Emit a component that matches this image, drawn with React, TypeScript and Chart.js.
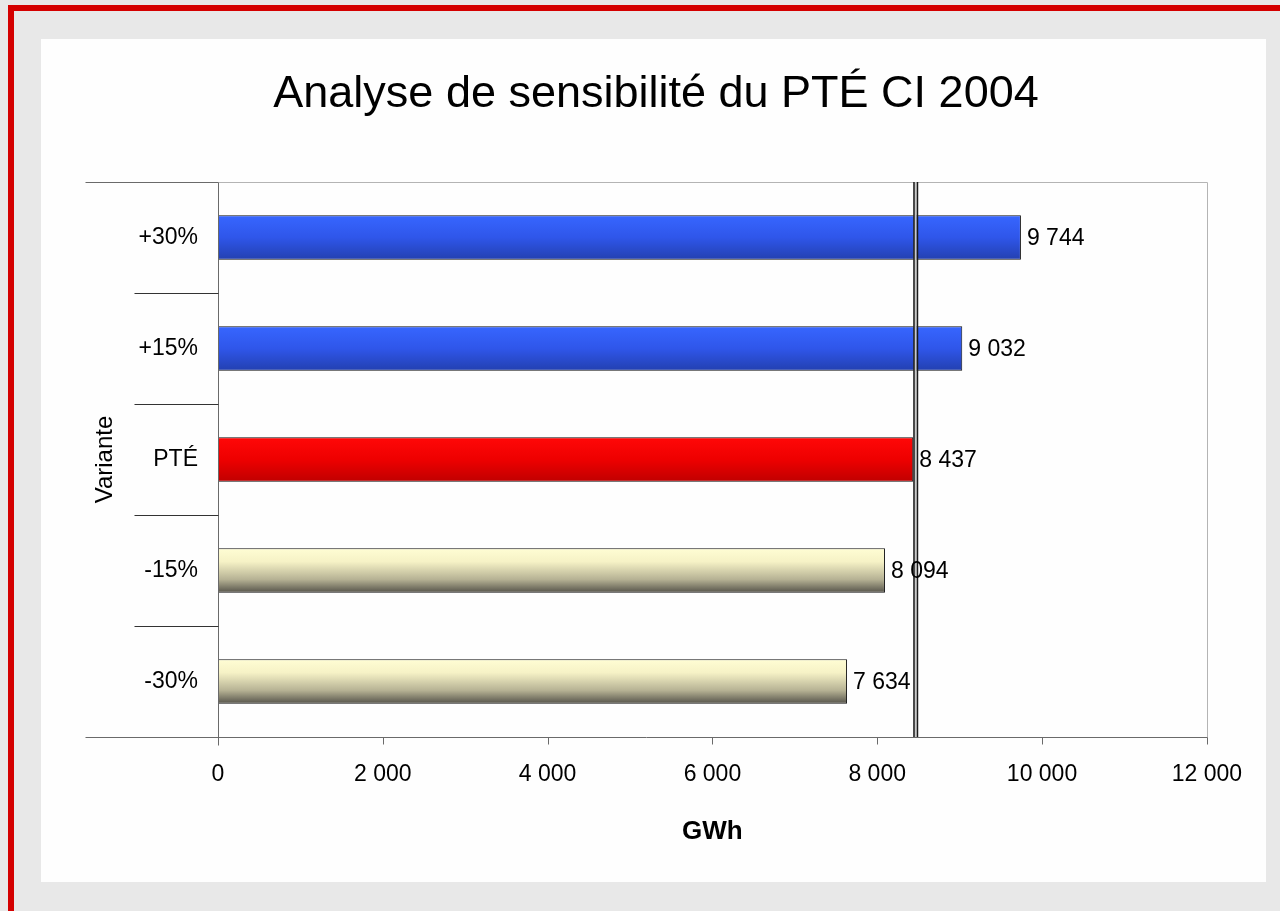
import React, { useEffect, useRef } from "react";
import { Chart, registerables } from "chart.js";

Chart.register(...registerables);

const titleText = "Analyse de sensibilité du PTÉ CI 2004";
const yAxisTitle = "Variante";
const xAxisTitle = "GWh";
const categories = ["+30%", "+15%", "PTÉ", "-15%", "-30%"];
const values = [9744, 9032, 8437, 8094, 7634];
const barKinds = ["blue", "blue", "red", "cream", "cream"];
const referenceValue = 8437;
const xMin = 0;
const xMax = 12000;
const xStep = 2000;

const FONT = "'Liberation Sans', Arial, Helvetica, sans-serif";

const gradientStops: Record<string, [number, string][]> = {
  blue: [
    [0, "#3766ff"],
    [0.5, "#2f56ea"],
    [1, "#2340b0"],
  ],
  red: [
    [0, "#ff0808"],
    [0.5, "#ee0000"],
    [1, "#c00000"],
  ],
  cream: [
    [0, "#fffdd4"],
    [0.3, "#f6f2c6"],
    [0.7, "#b6b294"],
    [1, "#55534a"],
  ],
};

const fmt = (v: number) =>
  Math.round(v)
    .toString()
    .replace(/\B(?=(\d{3})+(?!\d))/g, " ");

const extrasPlugin = {
  id: "extras",
  afterDatasetsDraw(chart: any) {
    const { ctx, chartArea: ca, scales } = chart;
    const xs = scales.x;
    const ys = scales.y;
    ctx.save();
    const dark = "#6a6a6a";
    const light = "#b4b4b4";
    const line = (x1: number, y1: number, x2: number, y2: number, c: string, w = 1) => {
      ctx.strokeStyle = c;
      ctx.lineWidth = w;
      ctx.beginPath();
      ctx.moveTo(x1, y1);
      ctx.lineTo(x2, y2);
      ctx.stroke();
    };
    const L = Math.round(ca.left) + 0.5;
    const R = Math.round(ca.right) + 0.5;
    const T = Math.round(ca.top) + 0.5;
    const B = Math.round(ca.bottom) + 0.5;
    const extLeft = L - 133;
    const sepLeft = L - 84;
    line(L, T, R, T, light);
    line(R, T, R, B, light);
    line(extLeft, T, L, T, dark);
    line(extLeft, B, R, B, dark);
    line(L, T, L, B + 8, dark);
    for (let v = xMin; v <= xMax; v += xStep) {
      const x = Math.round(xs.getPixelForValue(v)) + 0.5;
      line(x, B, x, B + 7, dark);
    }
    for (let i = 1; i < categories.length; i++) {
      const y = Math.round((ys.getPixelForValue(i - 1) + ys.getPixelForValue(i)) / 2) + 0.5;
      line(sepLeft, y, L, y, "#333333");
    }
    const rx = xs.getPixelForValue(referenceValue);
    ctx.fillStyle = "#c8c8c8";
    ctx.fillRect(rx + 0.5, ca.top, 3, ca.bottom - ca.top);
    line(rx + 0.75, ca.top, rx + 0.75, ca.bottom, "#1a1a1a", 1.5);
    line(rx + 4.25, ca.top, rx + 4.25, ca.bottom, "#1a1a1a", 1.5);
    const meta = chart.getDatasetMeta(0);
    ctx.fillStyle = "#000";
    ctx.font = `23px ${FONT}`;
    ctx.textAlign = "left";
    ctx.textBaseline = "middle";
    meta.data.forEach((el: any, i: number) => {
      ctx.fillText(fmt(values[i]), el.x + 6, el.y + 1);
    });
    ctx.save();
    ctx.translate(ca.left - 113, (ca.top + ca.bottom) / 2);
    ctx.rotate(-Math.PI / 2);
    ctx.textAlign = "center";
    ctx.textBaseline = "middle";
    ctx.font = `24px ${FONT}`;
    ctx.fillText(yAxisTitle, 0, 0);
    ctx.restore();
    ctx.restore();
  },
};

export default function App() {
  const ref = useRef<HTMLCanvasElement>(null);
  useEffect(() => {
    if (!ref.current) return;
    const chart = new Chart(ref.current, {
      type: "bar",
      data: {
        labels: categories,
        datasets: [
          {
            data: values,
            backgroundColor: (c: any) => {
              const chart = c.chart;
              const ys = chart.scales && chart.scales.y;
              const kind = barKinds[c.dataIndex] || "blue";
              const stops = gradientStops[kind];
              if (!chart.chartArea || !ys || c.dataIndex == null) return stops[0][1];
              const center = ys.getPixelForValue(c.dataIndex);
              const h = Math.abs(ys.getPixelForValue(1) - ys.getPixelForValue(0)) * 0.4;
              const g = chart.ctx.createLinearGradient(0, center - h / 2, 0, center + h / 2);
              stops.forEach(([o, col]) => g.addColorStop(o, col));
              return g;
            },
            borderColor: "#111111",
            borderWidth: 1,
            borderSkipped: false,
            categoryPercentage: 1,
            barPercentage: 0.4,
          },
        ],
      },
      options: {
        indexAxis: "y",
        animation: false,
        responsive: false,
        maintainAspectRatio: false,
        layout: { padding: { left: 64, right: 59, top: 0, bottom: 0 } },
        font: { family: FONT },
        plugins: {
          legend: { display: false },
          tooltip: { enabled: false },
          title: {
            display: true,
            text: titleText,
            color: "#000",
            font: { family: FONT, size: 45, weight: "normal" },
            padding: { top: 29, bottom: 60 },
          },
        },
        scales: {
          x: {
            type: "linear",
            min: xMin,
            max: xMax,
            afterFit: (s: any) => {
              s.height = 145;
            },
            ticks: {
              stepSize: xStep,
              autoSkip: false,
              maxRotation: 0,
              color: "#000",
              font: { family: FONT, size: 23 },
              padding: 24,
              callback: (v: any) => fmt(Number(v)),
            },
            grid: { display: false, drawTicks: false },
            border: { display: false },
            title: {
              display: true,
              text: xAxisTitle,
              color: "#000",
              font: { family: FONT, size: 26, weight: "bold" },
              padding: { top: 0, bottom: 35 },
            },
          },
          y: {
            type: "category",
            afterFit: (s: any) => {
              s.width = 113;
            },
            ticks: {
              color: "#000",
              font: { family: FONT, size: 23 },
              padding: 20,
            },
            grid: { display: false, drawTicks: false },
            border: { display: false },
          },
        },
      } as any,
      plugins: [extrasPlugin],
    });
    return () => chart.destroy();
  }, []);

  return (
    <div
      style={{
        position: "fixed",
        left: 0,
        top: 0,
        width: 1280,
        height: 911,
        background: "#e8e8e8",
        overflow: "hidden",
      }}
    >
      <div style={{ position: "absolute", left: 8, top: 5, width: 1272, height: 6, background: "#d40000" }} />
      <div style={{ position: "absolute", left: 8, top: 5, width: 6, height: 906, background: "#d40000" }} />
      <div style={{ position: "absolute", left: 41, top: 39, width: 1225, height: 843, background: "#fefefe" }}>
        <canvas ref={ref} width={1225} height={843} style={{ display: "block", width: 1225, height: 843 }} />
      </div>
    </div>
  );
}
